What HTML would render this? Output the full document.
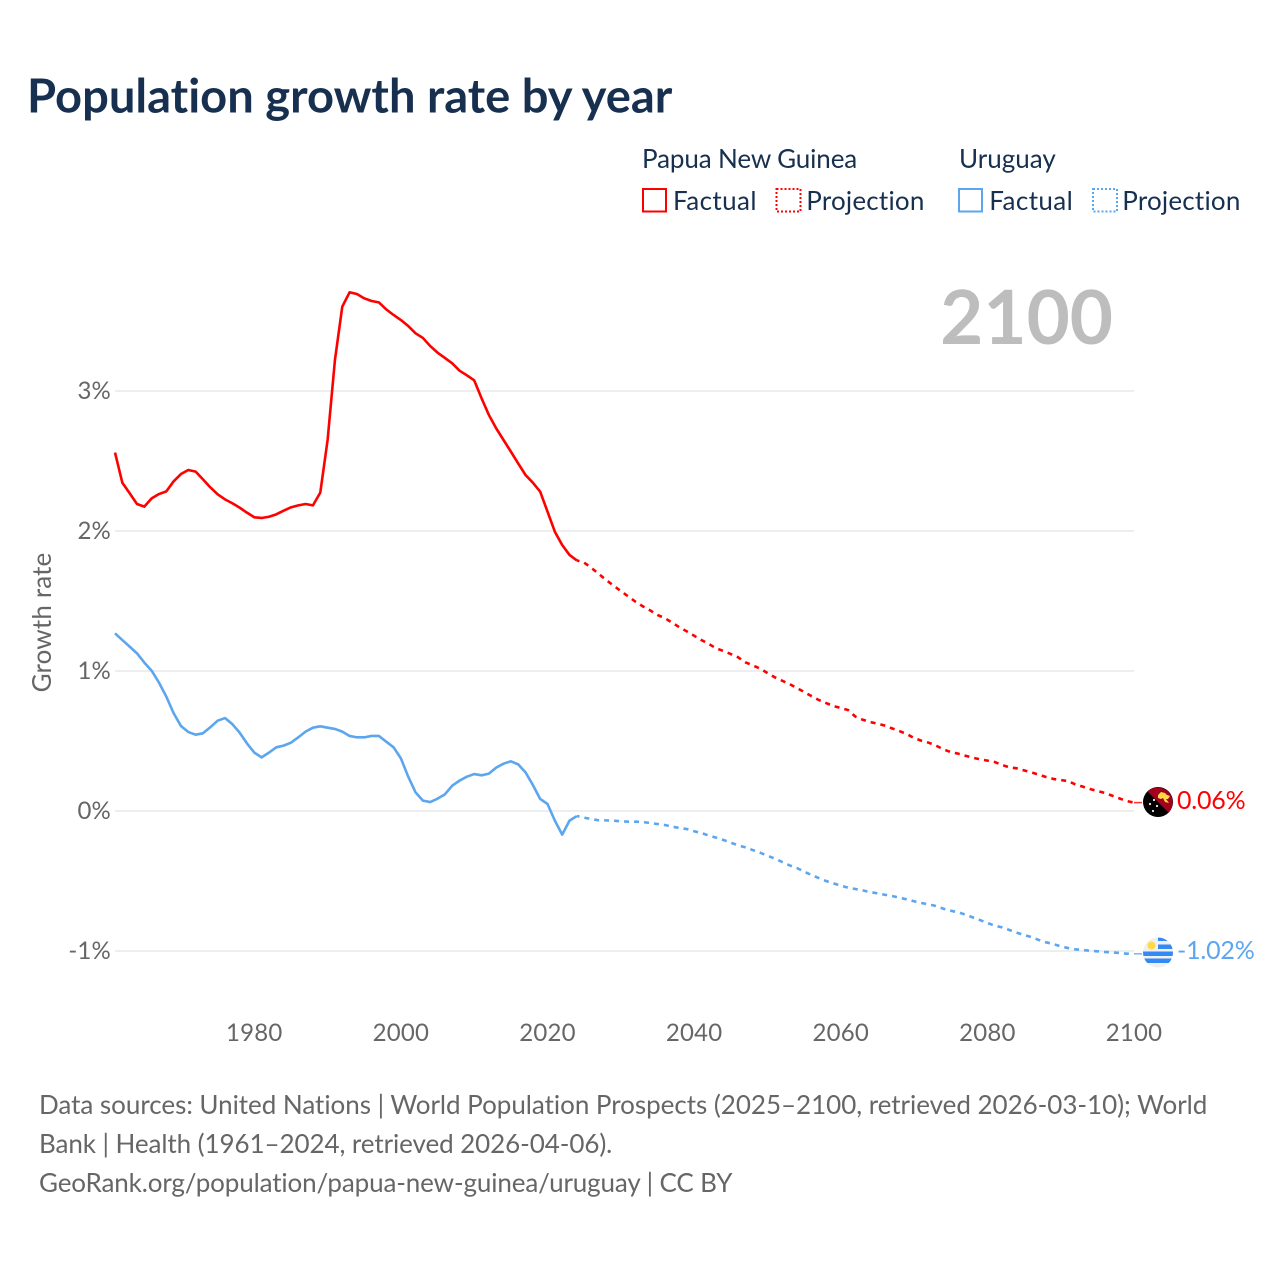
<!DOCTYPE html>
<html lang="en">
<head>
<meta charset="utf-8">
<title>Population growth rate by year</title>
<style>
html,body{margin:0;padding:0;background:#fff;width:1280px;height:1280px;overflow:hidden}
svg{display:block}
text{font-family:Lato,Carlito,"Liberation Sans",sans-serif;text-rendering:optimizeSpeed;font-variant-ligatures:none;font-feature-settings:"liga" 0}
</style>
</head>
<body>
<svg id="chart" xmlns="http://www.w3.org/2000/svg" width="1280" height="1280" viewBox="0 0 1280 1280">
  <rect width="1280" height="1280" fill="#fff"/>
  <text x="27" y="112.5" font-size="47.1" font-weight="700" fill="#17304f">Population growth rate by year</text>

  <g font-size="26" fill="#17304f">
    <text x="642" y="168" letter-spacing="-0.12">Papua New Guinea</text>
    <text x="959" y="168">Uruguay</text>
    <rect x="643" y="189" width="23" height="22.5" fill="none" stroke="#ff0000" stroke-width="2"/>
    <text x="673" y="210" letter-spacing="0.4">Factual</text>
    <rect x="776.5" y="189" width="24" height="22.5" fill="none" stroke="#ff0000" stroke-width="2" stroke-dasharray="2 2"/>
    <text x="806.3" y="210" letter-spacing="0.2">Projection</text>
    <rect x="959" y="189" width="23" height="22.5" fill="none" stroke="#5ca6ef" stroke-width="2"/>
    <text x="989.3" y="210" letter-spacing="0.4">Factual</text>
    <rect x="1093" y="189" width="24" height="22.5" fill="none" stroke="#5ca6ef" stroke-width="2" stroke-dasharray="2 2"/>
    <text x="1122.3" y="210" letter-spacing="0.2">Projection</text>
  </g>

  <text x="1113" y="344" font-size="74.5" font-weight="700" fill="#bdbdbd" text-anchor="end">2100</text>

  <g id="grid"></g>
  <g id="yTicks" font-size="24" fill="#666" letter-spacing="0.2"></g>
  <g id="xTicks" font-size="24" fill="#666" letter-spacing="0.2"></g>
  <text transform="translate(51,622.5) rotate(-90)" font-size="26" fill="#666" text-anchor="middle" letter-spacing="0.15">Growth rate</text>

  <g id="series"></g>

  <g transform="translate(1158,802)">
    <circle r="15" fill="#000"/>
    <path d="M-10.6,-10.6 A15,15 0 0 1 10.6,10.6 Z" fill="#a2001d"/>
    <path d="M0,-7 L3,-10 L7,-9 L9,-7 L12,-6 L10,-3 L8,-3 L11,1 L7,0 L5,-4 L3,-3 L0,-4 Z" fill="#ffda44"/>
    <circle cx="-8" cy="2" r="1.1" fill="#f0f0f0"/>
    <circle cx="-4" cy="-2" r="1.1" fill="#f0f0f0"/>
    <circle cx="-1" cy="4" r="1.1" fill="#f0f0f0"/>
    <circle cx="-5" cy="9" r="1.1" fill="#f0f0f0"/>
  </g>
  <g transform="translate(1158,952.5)">
    <clipPath id="uyClip"><circle r="15"/></clipPath>
    <circle r="15" fill="#f0f0f0"/>
    <g clip-path="url(#uyClip)" fill="#338af3">
      <rect x="0" y="-15" width="15" height="3.5"/>
      <rect x="0" y="-8" width="15" height="4.5"/>
      <rect x="-15" y="-1" width="30" height="4.5"/>
      <rect x="-15" y="6" width="30" height="4.5"/>
    </g>
    <circle cx="-6.5" cy="-7" r="4" fill="#ffda44"/>
  </g>

  <text x="1177" y="809" font-size="25" fill="#ff0000" letter-spacing="-0.2">0.06%</text>
  <text x="1177" y="959" font-size="25" fill="#5ca6ef" letter-spacing="-0.2">-1.02%</text>

  <g font-size="26" fill="#666">
    <text x="39" y="1114" letter-spacing="-0.03">Data sources: United Nations | World Population Prospects (2025–2100, retrieved 2026-03-10); World</text>
    <text x="39" y="1153" letter-spacing="-0.08">Bank | Health (1961–2024, retrieved 2026-04-06).</text>
    <text x="39" y="1192" letter-spacing="-0.127">GeoRank.org/population/papua-new-guinea/uruguay | CC BY</text>
  </g>
</svg>

<script>
const factualStartYear = 1961;
const projectionStartYear = 2024;
const yTickValues = [3, 2, 1, 0, -1];
const yTickLabels = ["3%", "2%", "1%", "0%", "-1%"];
const xTickValues = [1980, 2000, 2020, 2040, 2060, 2080, 2100];
const xTickLabels = ["1980", "2000", "2020", "2040", "2060", "2080", "2100"];

const pngFactual = [
  2.56, 2.345, 2.27, 2.193, 2.174, 2.233, 2.264, 2.283, 2.355, 2.407,
  2.436, 2.424, 2.369, 2.312, 2.262, 2.226, 2.198, 2.167, 2.131, 2.098,
  2.093, 2.102, 2.119, 2.145, 2.169, 2.183, 2.193, 2.183, 2.274, 2.65,
  3.221, 3.602, 3.705, 3.693, 3.662, 3.643, 3.633, 3.583, 3.543, 3.507,
  3.464, 3.412, 3.379, 3.321, 3.274, 3.236, 3.198, 3.145, 3.112, 3.076,
  2.948, 2.829, 2.733, 2.65, 2.567, 2.483, 2.4, 2.345, 2.281, 2.138,
  1.995, 1.9, 1.829, 1.79
];
const pngProjection = [
  1.79, 1.774, 1.736, 1.693, 1.65, 1.61, 1.571, 1.533, 1.495, 1.462,
  1.433, 1.4, 1.378, 1.345, 1.312, 1.283, 1.252, 1.221, 1.193, 1.162,
  1.143, 1.121, 1.098, 1.062, 1.04, 1.017, 0.986, 0.955, 0.931, 0.907,
  0.879, 0.85, 0.821, 0.793, 0.771, 0.75, 0.736, 0.721, 0.674, 0.652,
  0.636, 0.624, 0.61, 0.59, 0.571, 0.55, 0.521, 0.502, 0.488, 0.467,
  0.44, 0.421, 0.41, 0.395, 0.381, 0.369, 0.36, 0.35, 0.329, 0.312,
  0.305, 0.29, 0.276, 0.26, 0.243, 0.229, 0.221, 0.214, 0.19, 0.174,
  0.157, 0.143, 0.129, 0.11, 0.09, 0.071, 0.06
];
const uruguayFactual = [
  1.269, 1.221, 1.174, 1.126, 1.06, 1.002, 0.917, 0.817, 0.698, 0.607,
  0.564, 0.545, 0.555, 0.598, 0.645, 0.664, 0.621, 0.56, 0.483, 0.417,
  0.383, 0.417, 0.455, 0.467, 0.488, 0.526, 0.567, 0.595, 0.605, 0.595,
  0.586, 0.567, 0.536, 0.526, 0.526, 0.536, 0.536, 0.495, 0.455, 0.376,
  0.245, 0.133, 0.074, 0.064, 0.088, 0.119, 0.181, 0.217, 0.245, 0.264,
  0.255, 0.267, 0.31, 0.338, 0.355, 0.333, 0.276, 0.186, 0.086, 0.05,
  -0.069, -0.169, -0.069, -0.036
];
const uruguayProjection = [
  -0.036, -0.048, -0.057, -0.067, -0.067, -0.069, -0.074, -0.076, -0.076, -0.079,
  -0.086, -0.093, -0.1, -0.112, -0.121, -0.129, -0.145, -0.157, -0.176, -0.19,
  -0.207, -0.226, -0.245, -0.26, -0.279, -0.298, -0.319, -0.34, -0.364, -0.388,
  -0.407, -0.433, -0.457, -0.479, -0.5, -0.517, -0.533, -0.548, -0.557, -0.567,
  -0.579, -0.588, -0.598, -0.607, -0.619, -0.631, -0.645, -0.657, -0.667, -0.679,
  -0.698, -0.712, -0.724, -0.74, -0.76, -0.779, -0.8, -0.819, -0.831, -0.85,
  -0.869, -0.886, -0.9, -0.921, -0.938, -0.95, -0.967, -0.979, -0.988, -0.993,
  -0.998, -1.002, -1.007, -1.01, -1.014, -1.019, -1.02
];

const NS = "http://www.w3.org/2000/svg";
const RED = "#ff0000";
const BLUE = "#5ca6ef";
const plotLeft = 115;
const plotRight = 1134;
const flagLeft = 1142;

function xScale(year) {
  return plotLeft + (year - factualStartYear) * (plotRight - plotLeft) / (2100 - factualStartYear);
}
function yScale(value) {
  return 811 - value * 140;
}
function pathFor(values, startYear) {
  return values.map(function (v, i) {
    return (i ? "L" : "M") + xScale(startYear + i).toFixed(2) + "," + yScale(v).toFixed(2);
  }).join(" ");
}
function create(tag, attrs, parent) {
  const el = document.createElementNS(NS, tag);
  Object.keys(attrs).forEach(function (k) { el.setAttribute(k, attrs[k]); });
  parent.appendChild(el);
  return el;
}

const gridGroup = document.getElementById("grid");
const yTickGroup = document.getElementById("yTicks");
const xTickGroup = document.getElementById("xTicks");
const seriesGroup = document.getElementById("series");

yTickValues.forEach(function (v, i) {
  const line = create("line", { x1: plotLeft, x2: plotRight, y1: yScale(v), y2: yScale(v), stroke: "#e8e8e8", "stroke-width": 1.5 }, gridGroup);
  
  
  const label = create("text", { x: 111, y: yScale(v) + 8, "text-anchor": "end" }, yTickGroup);
  label.textContent = yTickLabels[i];
  
  
});

xTickValues.forEach(function (year, i) {
  const label = create("text", { x: xScale(year), y: 1041, "text-anchor": "middle" }, xTickGroup);
  label.textContent = xTickLabels[i];
  
  
});

function drawSeries(factual, projection, color, key) {
  const solid = create("path", { d: pathFor(factual, factualStartYear), fill: "none", stroke: color, "stroke-width": 2.6, "stroke-linejoin": "round" }, seriesGroup);
  
  
  solid.setAttribute('data-series', key);
  const dashed = create("path", { d: pathFor(projection, projectionStartYear), fill: "none", stroke: color, "stroke-width": 2.6, "stroke-dasharray": "5 5", "stroke-dashoffset": 2.3 }, seriesGroup);
  
  
  dashed.setAttribute('data-series', key);
  const lastValue = projection[projection.length - 1];
  const connector = create("line", { x1: plotRight, x2: flagLeft, y1: yScale(lastValue), y2: yScale(lastValue), stroke: color, "stroke-width": 1.5, opacity: 0.8 }, seriesGroup);
  
  
  connector.setAttribute('data-series', key);
}

drawSeries(pngFactual, pngProjection, RED, "papua-new-guinea");
drawSeries(uruguayFactual, uruguayProjection, BLUE, "uruguay");
</script>
</body>
</html>
